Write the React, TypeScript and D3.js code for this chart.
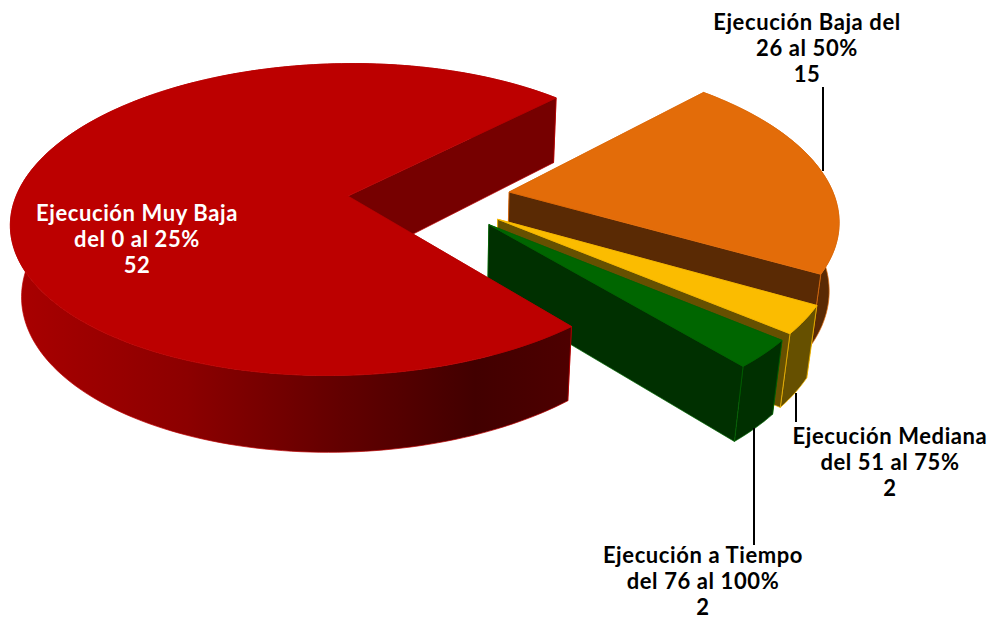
import React from 'react'
import * as d3 from 'd3'

const labelLines = [
  ['Ejecución Muy Baja', 'del 0 al 25%'],
  ['Ejecución Baja del', '26 al 50%'],
  ['Ejecución Mediana', 'del 51 al 75%'],
  ['Ejecución a Tiempo', 'del 76 al 100%'],
]
const values = [52, 15, 2, 2]
const topColors = ['#bc0000', '#e36c09', '#fbbc00', '#006600']
const wallColors = ['#760000', '#5a2a04', '#665000', '#003000']
const labelColors = ['#ffffff', '#000000', '#000000', '#000000']

const width = 997
const height = 620
const sliceExplode = [0.253, 0.245, 0.245, 0.245]
const sliceRadius = [0.99, 1.025, 1.022, 1.022]
const depth = 0.0256
const vanish = [440, 3000] // where the vertical edges of the pie meet
const drawOrder = [1, 2, 3, 0]

const labelCentre = [[137, 213], [807, 22], [890, 436], [703, 555]]
const lineGap = 26
const leaders = [null, [823, 87, 171], [796, 393, 422], [754, 428, 545]]

const slices = d3.pie<number>().sort(null)(values)
const dir = (t: number): [number, number] => [Math.sin(t), -Math.cos(t)]
const midAngle = (s: d3.PieArcDatum<number>) => (s.startAngle + s.endAngle) / 2

// camera: where four points of the unit circle land on the screen
const cut = dir(slices[0].endAngle)
const calib = [
  [0, -1, 574, 328],
  [0, 1, 164.9, 89.1],
  [cut[0], cut[1], 558, 97],
  [-cut[0], -cut[1], 79.2, 322.7],
]

function solve(A: number[][], b: number[]) {
  const n = b.length
  const M = A.map((r, i) => [...r, b[i]])
  for (let i = 0; i < n; i++) {
    let p = i
    for (let j = i + 1; j < n; j++) if (Math.abs(M[j][i]) > Math.abs(M[p][i])) p = j
    ;[M[i], M[p]] = [M[p], M[i]]
    for (let j = 0; j < n; j++) {
      if (j === i) continue
      const f = M[j][i] / M[i][i]
      for (let k = i; k <= n; k++) M[j][k] -= f * M[i][k]
    }
  }
  return M.map((r, i) => r[n] / r[i])
}

const rows: number[][] = []
const rhs: number[] = []
calib.forEach(([u, v, X, Y]) => {
  rows.push([u, v, 1, 0, 0, 0, -u * X, -v * X])
  rhs.push(X)
  rows.push([0, 0, 0, u, v, 1, -u * Y, -v * Y])
  rhs.push(Y)
})
const [a, b, c, d, e, f, g, h] = solve(rows, rhs)

const project = (u: number, v: number, t = 0): [number, number] => {
  const w = g * u + h * v + 1
  return [
    (a * u + b * v + c + t * vanish[0]) / (w + t),
    (d * u + e * v + f + t * vanish[1]) / (w + t),
  ]
}

// the calibration is taken on the big slice, so the pie's centre sits behind it
const redDir = dir(midAngle(slices[0]))
const centre = [-sliceExplode[0] * redDir[0], -sliceExplode[0] * redDir[1]]
const line = d3.line()

function buildSlice(s: d3.PieArcDatum<number>) {
  const m = dir(midAngle(s))
  const ox = centre[0] + sliceExplode[s.index] * m[0]
  const oy = centre[1] + sliceExplode[s.index] * m[1]
  const r = sliceRadius[s.index]
  const n = Math.ceil((s.endAngle - s.startAngle) * 40)
  const angles = d3.range(n + 1).map(i => s.startAngle + ((s.endAngle - s.startAngle) * i) / n)
  const rim = angles.map(t => {
    const p = dir(t)
    return [ox + r * p[0], oy + r * p[1]]
  })
  const top = rim.map(p => project(p[0], p[1]))
  const bottom = rim.map(p => project(p[0], p[1], depth))
  const apexTop = project(ox, oy)
  const apexBottom = project(ox, oy, depth)
  const last = rim.length - 1
  return {
    top: line([apexTop, ...top]) + 'Z',
    outer: line([...top, ...[...bottom].reverse()]) + 'Z',
    wallStart: line([apexTop, top[0], bottom[0], apexBottom]) + 'Z',
    wallEnd: line([apexTop, top[last], bottom[last], apexBottom]) + 'Z',
  }
}

export default function App() {
  const shapes = slices.map(buildSlice)
  const textStyle = { fontFamily: 'Lato, sans-serif', fontWeight: 700, fontSize: 22, letterSpacing: 0.6 }
  return (
    <svg width={width} height={height} style={{ position: 'absolute', left: 0, top: 0, background: '#fff' }}>
      <defs>
        <linearGradient id="redWall" gradientUnits="userSpaceOnUse" x1={20} x2={575} y1={0} y2={0}>
          <stop offset="0" stopColor="#a80000" />
          <stop offset="0.3" stopColor="#8c0000" />
          <stop offset="0.58" stopColor="#620000" />
          <stop offset="0.82" stopColor="#420000" />
          <stop offset="1" stopColor="#4e0000" />
        </linearGradient>
      </defs>
      {drawOrder.map(i => {
        const s = shapes[i]
        const col = topColors[i]
        return (
          <g key={i} stroke={col} strokeWidth={0.7} strokeLinejoin="round">
            <path d={s.wallStart} fill={wallColors[i]} />
            <path d={s.outer} fill={i === 0 ? 'url(#redWall)' : wallColors[i]} />
            <path d={s.wallEnd} fill={wallColors[i]} />
            <path d={s.top} fill={col} />
          </g>
        )
      })}
      {leaders.map((l, i) =>
        l ? <line key={i} x1={l[0]} x2={l[0]} y1={l[1]} y2={l[2]} stroke="#000" strokeWidth={2} /> : null
      )}
      {values.map((v, i) => (
        <text key={i} textAnchor="middle" fill={labelColors[i]} style={textStyle}>
          {[...labelLines[i], String(v)].map((t, j) => (
            <tspan key={j} x={labelCentre[i][0]} y={labelCentre[i][1] + j * lineGap} dy="0.35em">
              {t}
            </tspan>
          ))}
        </text>
      ))}
    </svg>
  )
}
